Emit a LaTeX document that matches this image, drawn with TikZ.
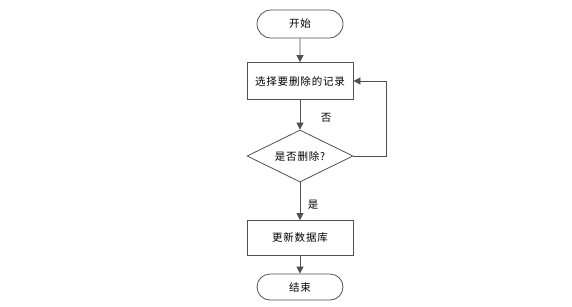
\documentclass[tikz,border=0pt]{standalone}
\usepackage{fontspec}
\newfontfamily\cjk[LetterSpace=8]{Noto Sans CJK SC}
\usetikzlibrary{arrows.meta,shapes.geometric,shapes.misc}
\definecolor{lc}{HTML}{505050}
\tikzset{
  base/.style={draw=lc, line width=0.8pt, font=\cjk\fontsize{10.5}{12}\selectfont, text=black, inner sep=0pt},
  term/.style={base, rounded rectangle, minimum width=86pt, minimum height=28pt},
  proc/.style={base, rectangle, minimum width=106pt, minimum height=37pt},
  conn/.style={draw=lc, line width=0.8pt, -{Triangle[length=7pt,width=7pt]}},
  lbl/.style={font=\cjk\fontsize{10.5}{12}\selectfont, inner sep=0pt}
}
\begin{document}
\begin{tikzpicture}[x=1pt,y=-1pt]
\useasboundingbox (0,0) rectangle (572,306);
\node[term] (start) at (300,24) {开始};
\node[proc] (sel) at (300,81) {选择要删除的记录};
\node[base, diamond, minimum width=106pt, minimum height=52pt, shape aspect=2.04] (dec) at (300,156) {是否删除?};
\node[proc, minimum height=35pt] (upd) at (300,238) {更新数据库};
\node[term, minimum height=26pt] (end) at (300,287) {结束};
\coordinate (c1) at (386,156);
\coordinate (c2) at (386,81);
\draw[conn] (start) -- (sel);
\draw[conn] (sel) -- (dec);
\draw[conn] (dec) -- (upd);
\draw[conn] (upd) -- (end);
\draw[conn] (dec.east) -- (c1) -- (c2) -- (sel.east);
\node[lbl] (no) at (326,118) {否};
\node[lbl] (yes) at (313,205) {是};
\end{tikzpicture}
\end{document}
